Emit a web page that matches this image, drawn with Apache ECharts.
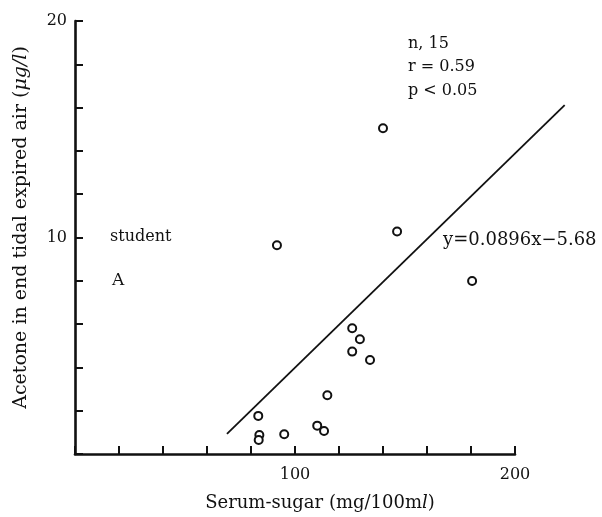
<!DOCTYPE html>
<html>
<head>
<meta charset="utf-8">
<script src="https://cdn.jsdelivr.net/npm/echarts@6/dist/echarts.min.js"></script>
<style>
  html, body { margin: 0; padding: 0; background: #fff; }
  #chart { width: 602px; height: 517px; }
</style>
</head>
<body>
<div id="chart"></div>
<script>
// serum sugar (mg/100ml) vs acetone in expired air (ug/l)
const sugar = [91.8, 140, 146.4, 180.5, 126, 129.5, 126, 134.1, 114.7, 83.3, 83.8, 83.5, 95.1, 110.1, 113.2]
const acetone = [9.64, 15.05, 10.28, 7.99, 5.81, 5.30, 4.73, 4.34, 2.71, 1.76, 0.88, 0.65, 0.91, 1.31, 1.06]

// ends of the drawn regression line (it runs past the x axis end)
const fitX = [69.2, 223]
const fitY = [1.08, 16.15]

const xLabels = [100, 200]
const yLabels = [10, 20]

const serif = '"DejaVu Serif", "Liberation Serif", serif'
const ink = '#111'

// px per mg/100ml, so the wide grid for the fit line keeps the same scale
const xScale = 2.2
const wideMax = 240

let chart = echarts.init(document.getElementById('chart'))

const hidden = {
    show: false,
    splitLine: {show: false}
}

chart.setOption({
    backgroundColor: '#fff',
    animation: false,
    textStyle: {fontFamily: serif, color: ink},
    grid: [
        {left: 75, top: 21, width: 200 * xScale, height: 436.5},
        {left: 75, top: 21, width: wideMax * xScale, height: 436.5}
    ],
    xAxis: [
        {
            type: 'value',
            gridIndex: 0,
            min: 0,
            max: 200,
            interval: 20,
            splitLine: {show: false},
            axisLine: {lineStyle: {color: ink, width: 2.6}},
            axisTick: {inside: true, length: 8, lineStyle: {color: ink, width: 2}},
            axisLabel: {
                margin: 13,
                fontSize: 16,
                color: ink,
                fontFamily: serif,
                formatter: (v) => xLabels.includes(v) ? String(v) : ''
            },
            name: 'Serum-sugar (mg/100m{i|l})',
            nameLocation: 'middle',
            nameGap: 40,
            nameTextStyle: {
                fontSize: 18,
                color: ink,
                fontFamily: serif,
                padding: [0, 0, 0, 50],
                rich: {i: {fontStyle: 'italic', fontSize: 18, fontFamily: serif}}
            }
        },
        Object.assign({type: 'value', gridIndex: 1, min: 0, max: wideMax}, hidden)
    ],
    yAxis: [
        {
            type: 'value',
            gridIndex: 0,
            min: 0,
            max: 20,
            interval: 2,
            splitLine: {show: false},
            axisLine: {lineStyle: {color: ink, width: 2.6}},
            axisTick: {inside: true, length: 8, lineStyle: {color: ink, width: 2}},
            axisLabel: {
                margin: 8,
                fontSize: 16,
                color: ink,
                fontFamily: serif,
                formatter: (v) => yLabels.includes(v) ? String(v) : ''
            },
            name: 'Acetone in end tidal expired air ({i|μg/l})',
            nameLocation: 'middle',
            nameGap: 44,
            nameRotate: 90,
            nameTextStyle: {
                fontSize: 19,
                color: ink,
                fontFamily: serif,
                padding: [0, 0, 0, 20],
                rich: {i: {fontStyle: 'italic', fontSize: 19, fontFamily: serif}}
            }
        },
        Object.assign({type: 'value', gridIndex: 1, min: 0, max: 20}, hidden)
    ],
    graphic: [
        {type: 'text', left: 408, top: 32, style: {text: 'n, 15\nr = 0.59\np < 0.05', fontSize: 16, lineHeight: 23.5, fontFamily: serif, fill: ink}},
        {type: 'text', left: 110, top: 229, style: {text: 'student', fontSize: 16, fontFamily: serif, fill: ink}},
        {type: 'text', left: 112, top: 272, style: {text: 'A', fontSize: 17, fontFamily: serif, fill: ink}},
        {type: 'text', left: 443, top: 231, style: {text: 'y=0.0896x−5.68', fontSize: 18, fontFamily: serif, fill: ink}}
    ],
    series: [
        {
            type: 'line',
            xAxisIndex: 1,
            yAxisIndex: 1,
            data: fitX.map((x, i) => [x, fitY[i]]),
            symbol: 'none',
            silent: true,
            lineStyle: {color: ink, width: 1.8}
        },
        {
            type: 'scatter',
            xAxisIndex: 0,
            yAxisIndex: 0,
            data: sugar.map((x, i) => [x, acetone[i]]),
            symbol: 'circle',
            symbolSize: 8,
            itemStyle: {color: '#fff', borderColor: ink, borderWidth: 2, opacity: 1}
        }
    ]
})
</script>
</body>
</html>
